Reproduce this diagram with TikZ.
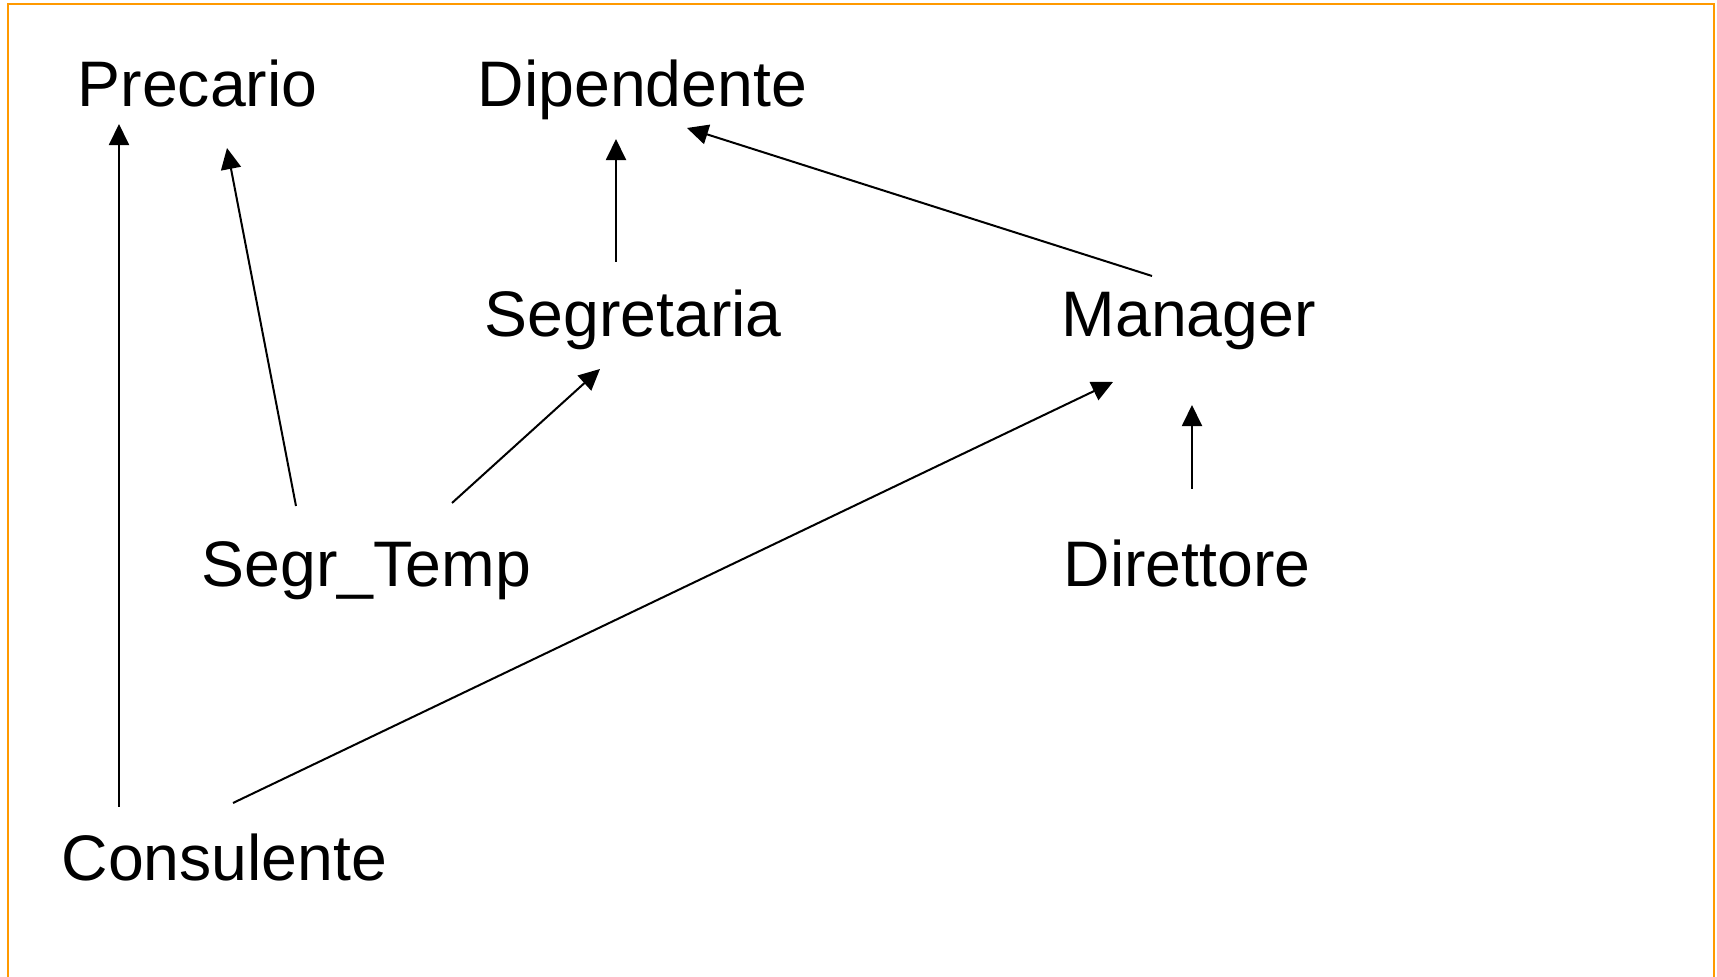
\documentclass[tikz,border=0pt]{standalone}
\usepackage{fontspec}
\setmainfont{Liberation Sans}
\usepackage{tikz}
\usetikzlibrary{calc}
\usetikzlibrary{arrows.meta}
\definecolor{frameorange}{RGB}{255,153,0}
\tikzstyle{entity}=[anchor=base west,inner sep=0pt,font=\fontsize{18.3pt}{22pt}\selectfont]
\tikzstyle{isa}=[line width=0.57pt,-{Triangle[length=6pt,width=5.7pt]}]

\begin{document}
\begin{tikzpicture}[x=0.01cm,y=-0.01cm]
\useasboundingbox (0,0) rectangle (1717,977);
% frame
\draw[frameorange,line width=0.6pt] (8,977) -- (8,4) -- (1714,4) -- (1714,977);

% entities
\node[entity] (prec) at (77,107) {Precario};
\node[entity] (dip) at (477,107) {Dipendente};

\node[entity] (segr) at (484,337) {Segretaria};
\node[entity] (man) at (1061,337) {Manager};

\node[entity] (segt) at (201,587) {Segr\_Temp};
\node[entity] (dir) at (1063,587) {Direttore};

\node[entity] (cons) at (61,881) {Consulente};

% generalizations
\draw[isa] ($(cons.base west)+(58,-74)$) -- ($(prec.base west)+(42,17)$);
\draw[isa] ($(segt.base west)+(95,-81)$) -- ($(prec.base west)+(150,41)$);
\draw[isa] ($(segt.base west)+(251,-84)$) -- ($(segr.base west)+(116,32)$);
\draw[isa] ($(segr.base west)+(132,-75)$) -- ($(dip.base west)+(139,32)$);
\draw[isa] ($(man.base west)+(91,-61)$) -- ($(dip.base west)+(210,21)$);
\draw[isa] ($(cons.base west)+(172,-78)$) -- ($(man.base west)+(52,45)$);
\draw[isa] ($(dir.base west)+(129,-98)$) -- ($(man.base west)+(131,68)$);

\end{tikzpicture}
\end{document}
